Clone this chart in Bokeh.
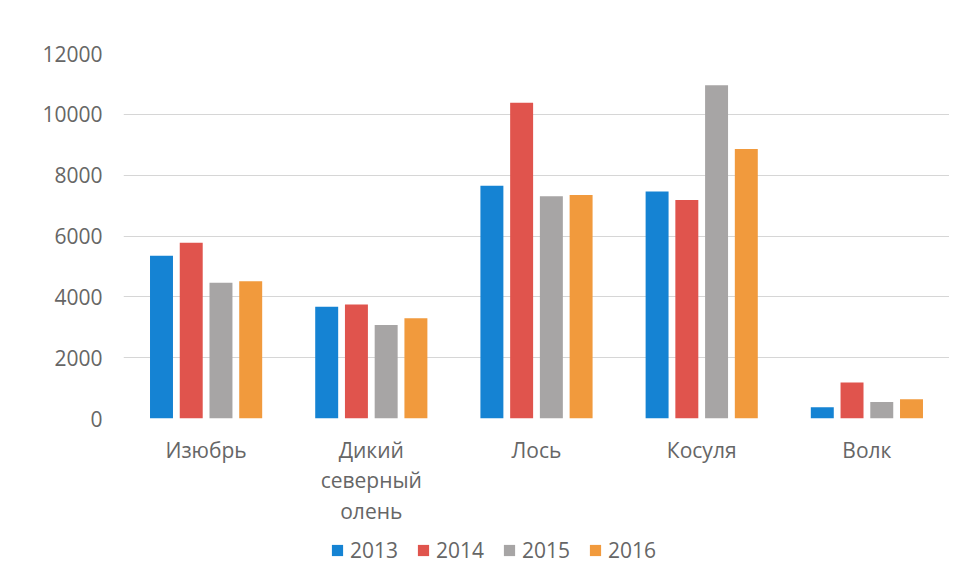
from bokeh.plotting import figure
from bokeh.layouts import column
from bokeh.models import FactorRange, Range1d, SingleIntervalTicker, Legend, LegendItem, ColumnDataSource
from bokeh.transform import dodge
from bokeh.embed import file_html
from bokeh.resources import INLINE

categories = ["Изюбрь", "Дикий\nсеверный\nолень", "Лось", "Косуля", "Волк"]
years = ["2013", "2014", "2015", "2016"]
v2013 = [5350, 3670, 7650, 7460, 370]
v2014 = [5780, 3750, 10380, 7180, 1180]
v2015 = [4460, 3070, 7310, 10960, 545]
v2016 = [4510, 3300, 7350, 8860, 635]
colors = ["#1583d3", "#e0544d", "#a7a5a5", "#f19a3d"]

source = ColumnDataSource(dict(cat=categories, y2013=v2013, y2014=v2014, y2015=v2015, y2016=v2016))

FONT = "Open Sans"
p = figure(x_range=FactorRange(*categories, range_padding=0), y_range=Range1d(0, 12000),
           width=949, height=530, output_backend="svg", toolbar_location=None,
           min_border_left=123, min_border_right=0, min_border_top=53, min_border_bottom=112)
p.outline_line_color = None
p.background_fill_color = "white"
p.border_fill_color = "white"

offsets = [-0.27, -0.09, 0.09, 0.27]
renderers = []
for yr, off, col in zip(years, offsets, colors):
    r = p.vbar(x=dodge("cat", off, range=p.x_range), top="y" + yr, width=0.139,
               source=source, fill_color=col, line_color=None)
    renderers.append(r)

p.yaxis.ticker = SingleIntervalTicker(interval=2000)
for ax in (p.xaxis, p.yaxis):
    ax.axis_line_color = None
    ax.major_tick_line_color = None
    ax.minor_tick_line_color = None
    ax.major_label_text_font = FONT
    ax.major_label_text_color = "#666666"
p.yaxis.major_label_text_font_size = "21px"
p.yaxis.major_label_standoff = 15
p.xaxis.major_label_text_font_size = "21px"
p.xaxis.major_label_standoff = 11
p.xaxis.major_label_text_line_height = 1.1
p.xgrid.grid_line_color = None
p.ygrid.grid_line_color = "#d6d6d6"
p.ygrid.grid_line_width = 1

# legend in a separate strip below the chart (its frame aligns with the chart frame)
lg = figure(width=949, height=40, output_backend="svg", toolbar_location=None,
            x_range=Range1d(0, 1), y_range=Range1d(0, 1), x_axis_type=None, y_axis_type=None,
            min_border_left=123, min_border_right=0, min_border_top=0, min_border_bottom=0)
lg.grid.visible = False
lg.outline_line_color = None
lg.border_fill_color = "white"
lg_src = ColumnDataSource(dict(x=[5], top=[5]))
lg_renderers = [lg.vbar(x="x", top="top", width=0.1, source=lg_src, fill_color=c, line_color=None)
                for c in colors]
legend = Legend(items=[LegendItem(label=yr, renderers=[r]) for yr, r in zip(years, lg_renderers)],
                orientation="horizontal", location=(207, 6))
legend.padding = 0
legend.margin = 0
legend.border_line_color = None
legend.background_fill_alpha = 0
legend.glyph_width = 14
legend.glyph_height = 14
legend.label_standoff = 6
legend.spacing = 18
legend.label_text_font = FONT
legend.label_text_font_size = "21px"
legend.label_text_color = "#666666"
lg.add_layout(legend)

layout = column(p, lg, spacing=0)
open("out.html", "w").write(file_html(layout, INLINE))
